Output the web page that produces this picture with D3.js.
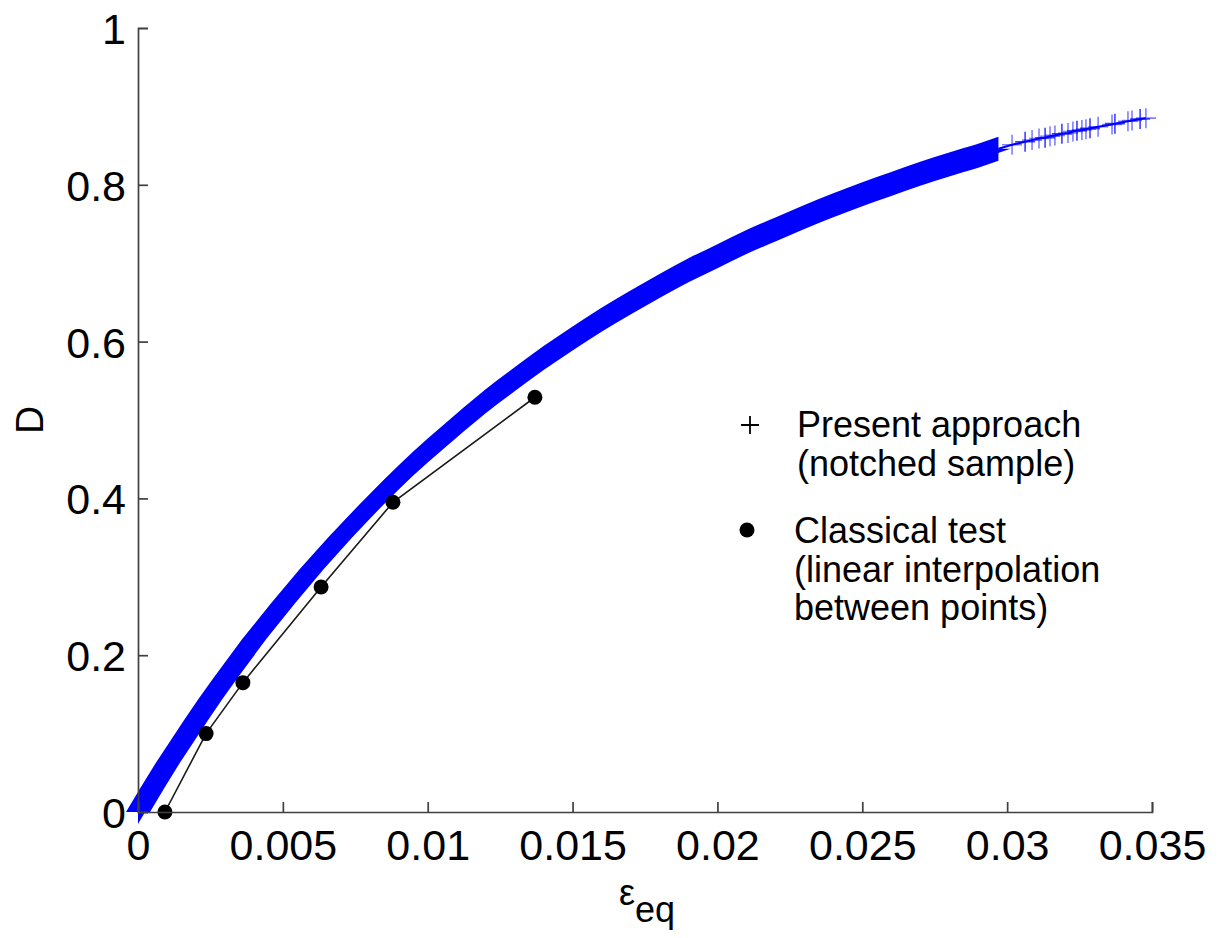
<!DOCTYPE html>
<html>
<head>
<meta charset="utf-8">
<script src="https://cdn.jsdelivr.net/npm/d3@7"></script>
<style>
body { margin: 0; background: #fff; }
text { font-family: Arial, "Liberation Sans", sans-serif; }
</style>
</head>
<body>
<div id="chart"></div>
<script>
// present approach: dense markers (eps, D)
var presentEps = [0, 0.0005, 0.001, 0.0015, 0.002, 0.0025, 0.003, 0.004, 0.005, 0.006, 0.007, 0.008, 0.009,
	0.010, 0.011, 0.012, 0.013, 0.014, 0.015, 0.016, 0.017, 0.018, 0.019, 0.020, 0.021, 0.022, 0.023,
	0.024, 0.025, 0.026, 0.027, 0.028, 0.029, 0.0297]
var presentD = [0, 0.031, 0.061, 0.089, 0.117, 0.144, 0.170, 0.220, 0.266, 0.310, 0.351, 0.390, 0.427,
	0.461, 0.493, 0.524, 0.552, 0.579, 0.604, 0.628, 0.650, 0.671, 0.691, 0.709, 0.727, 0.743, 0.759,
	0.774, 0.788, 0.801, 0.814, 0.826, 0.837, 0.846]

// sparse markers at the end of the curve
var tailEps = [0.03017, 0.03062, 0.03086, 0.03110, 0.03131, 0.03148, 0.03165, 0.03189, 0.03210, 0.03227,
	0.03241, 0.03258, 0.03272, 0.03286, 0.03314, 0.03362, 0.03372, 0.03417, 0.03431, 0.03459, 0.03479]
var tailD = [0.851, 0.855, 0.857, 0.859, 0.860, 0.862, 0.863, 0.865, 0.866, 0.868,
	0.869, 0.870, 0.871, 0.872, 0.874, 0.877, 0.878, 0.881, 0.882, 0.884, 0.885]

// classical test
var classicalEps = [0.00093, 0.00235, 0.00362, 0.00632, 0.0088, 0.0137]
var classicalD = [0, 0.100, 0.165, 0.287, 0.395, 0.529]

var xTicks = [0, 0.005, 0.01, 0.015, 0.02, 0.025, 0.03, 0.035]
var xTickLabels = ['0', '0.005', '0.01', '0.015', '0.02', '0.025', '0.03', '0.035']
var yTicks = [0, 0.2, 0.4, 0.6, 0.8, 1]
var yTickLabels = ['0', '0.2', '0.4', '0.6', '0.8', '1']

var legendPresent = ['Present approach', '(notched sample)']
var legendClassical = ['Classical test', '(linear interpolation', 'between points)']

var width = 1224, height = 938
var svg = d3.select('#chart').append('svg')
	.attr('width', width).attr('height', height)

var x = d3.scaleLinear().domain([0, 0.035]).range([138, 1152])
var y = d3.scaleLinear().domain([0, 1]).range([812, 28])

var arm = 10 // half size of the sparse + markers
var bandArm = 12 // the overlapping ones read a bit wider
var blue = '#0000ff'

var present = presentEps.map(function(e, i) { return {e: e, d: presentD[i]} })
var tail = tailEps.map(function(e, i) { return {e: e, d: tailD[i]} })
var classical = classicalEps.map(function(e, i) { return {e: e, d: classicalD[i]} })

/* dense band = union of vertical and horizontal arms of the + markers */
var marks_shell = svg.append('g')
marks_shell.append('path')
	.datum(present)
	.attr('fill', blue)
	.attr('d', d3.area()
		.x(function(p) { return x(p.e) })
		.y0(function(p) { return y(p.d) - bandArm })
		.y1(function(p) { return y(p.d) + bandArm })
		.curve(d3.curveMonotoneX))
marks_shell.append('path')
	.datum(present)
	.attr('fill', blue)
	.attr('d', d3.area()
		.y(function(p) { return y(p.d) })
		.x0(function(p) { return x(p.e) - bandArm })
		.x1(function(p) { return x(p.e) + bandArm }))

// tail: horizontal arms overlap into a line, vertical arms stand alone
var tailAll = [present[present.length - 1]].concat(tail)
marks_shell.append('path')
	.datum(tailAll)
	.attr('fill', 'none')
	.attr('stroke', blue)
	.attr('stroke-width', 2)
	.attr('d', d3.line().x(function(p) { return x(p.e) }).y(function(p) { return y(p.d) }))
marks_shell.selectAll('.tailmark')
	.data(tail)
	.enter().append('path')
	.attr('class', 'tailmark')
	.attr('fill', 'none')
	.attr('stroke', blue)
	.attr('stroke-width', 1.6)
	.attr('stroke-opacity', function(p, i) { return i % 3 === 1 ? 0.75 : 0.5 })
	.attr('d', function(p) {
		var cx = x(p.e), cy = y(p.d)
		return 'M' + (cx - arm) + ',' + cy + 'H' + (cx + arm) + 'M' + cx + ',' + (cy - arm) + 'V' + (cy + arm)
	})

/* classical test line + dots */
marks_shell.append('path')
	.datum(classical)
	.attr('fill', 'none')
	.attr('stroke', '#1a1a1a')
	.attr('stroke-width', 1.6)
	.attr('d', d3.line().x(function(p) { return x(p.e) }).y(function(p) { return y(p.d) }))
marks_shell.selectAll('.dot')
	.data(classical)
	.enter().append('circle')
	.attr('class', 'dot')
	.attr('cx', function(p) { return x(p.e) })
	.attr('cy', function(p) { return y(p.d) })
	.attr('r', 7.5)
	.attr('fill', '#000')

/* axes */
var axis_shell = svg.append('g')
var x_axis_shell = axis_shell.append('g').attr('transform', 'translate(0,' + y(0) + ')')
var y_axis_shell = axis_shell.append('g').attr('transform', 'translate(' + x(0) + ',0)')

x_axis_shell.call(
	d3.axisBottom(x)
		.tickValues(xTicks)
		.tickSize(-10)
		.tickFormat(function(d, i) { return xTickLabels[i] })
)
y_axis_shell.call(
	d3.axisLeft(y)
		.tickValues(yTicks)
		.tickSize(-10)
		.tickFormat(function(d, i) { return yTickLabels[i] })
)

axis_shell.selectAll('.domain, .tick line')
	.attr('stroke', '#404040')
	.attr('stroke-width', 1.7)
axis_shell.selectAll('.tick text')
	.attr('fill', '#000')
	.attr('font-size', 43)
	.attr('font-family', 'Arial, "Liberation Sans", sans-serif')
x_axis_shell.selectAll('.tick text').attr('y', 48).attr('dy', 0)
y_axis_shell.selectAll('.tick text').attr('x', -12).attr('y', 15.5).attr('dy', 0)

/* axis labels */
svg.append('text')
	.attr('transform', 'translate(43,420) rotate(-90)')
	.attr('text-anchor', 'middle')
	.attr('font-size', 39)
	.text('D')

var xl = svg.append('text')
	.attr('x', 619).attr('y', 905)
	.attr('font-size', 36)
xl.append('tspan').text('ε')
xl.append('tspan').attr('dy', 17).text('eq')

/* legend */
var legend = svg.append('g')
legend.append('path')
	.attr('stroke', '#000')
	.attr('stroke-width', 1.8)
	.attr('d', 'M741,425H759M750,416V434')
legend.append('circle')
	.attr('cx', 747).attr('cy', 530).attr('r', 7.5).attr('fill', '#000')

legend.selectAll('.lp')
	.data(legendPresent)
	.enter().append('text')
	.attr('class', 'lp')
	.attr('x', 797)
	.attr('y', function(d, i) { return 437 + i * 38.5 })
	.attr('font-size', 36)
	.text(function(d) { return d })
legend.selectAll('.lc')
	.data(legendClassical)
	.enter().append('text')
	.attr('class', 'lc')
	.attr('x', 794)
	.attr('y', function(d, i) { return 543 + i * 38.5 })
	.attr('font-size', 36)
	.text(function(d) { return d })
</script>
</body>
</html>
